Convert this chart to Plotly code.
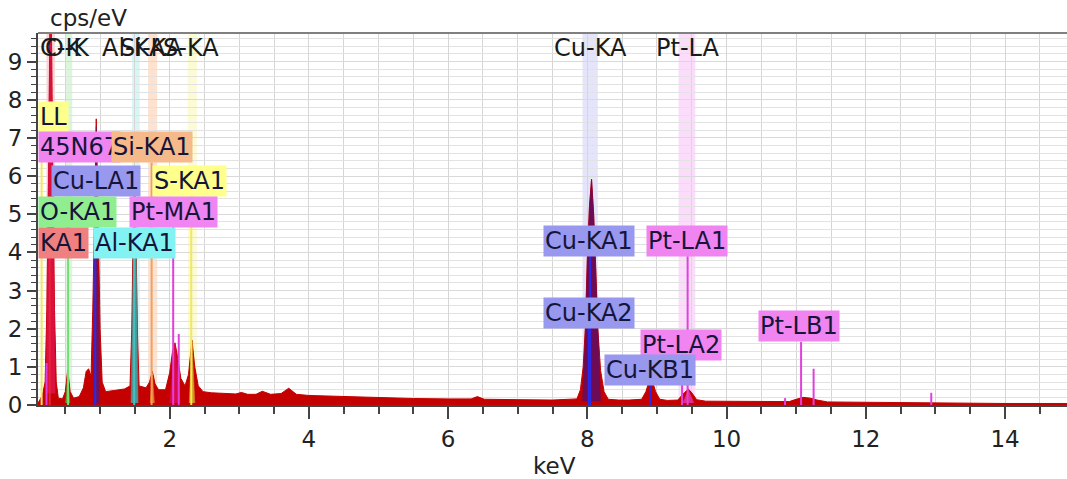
import plotly.graph_objects as go

# ---------------- data ----------------
# Measured spectrum outline (keV, cps/eV)
energy_keV = [0.108, 0.13, 0.17, 0.21, 0.235, 0.26, 0.29, 0.32, 0.345, 0.37, 0.40, 0.46, 0.50, 0.535, 0.57,
              0.62, 0.70, 0.76, 0.80, 0.835, 0.87, 0.895, 0.92, 0.945, 0.975, 1.00, 1.03, 1.08, 1.20, 1.35,
              1.43, 1.455, 1.475, 1.495, 1.515, 1.535, 1.56, 1.66, 1.71, 1.75, 1.79, 1.84, 1.94, 2.00,
              2.04, 2.075, 2.11, 2.16, 2.22, 2.27, 2.32, 2.36, 2.41, 2.48, 2.60, 2.80, 2.95, 3.03, 3.12,
              3.24, 3.33, 3.45, 3.60, 3.71, 3.82, 4.00, 4.50, 5.00, 5.50, 6.00, 6.33, 6.42, 6.52, 7.00,
              7.50, 7.85, 7.90, 7.94, 7.97, 8.00, 8.03, 8.06, 8.09, 8.12, 8.15, 8.19, 8.24, 8.30, 8.45,
              8.60, 8.78, 8.84, 8.88, 8.91, 8.94, 8.98, 9.04, 9.15, 9.30, 9.36, 9.41, 9.45, 9.50, 9.57,
              9.70, 10.0, 10.5, 10.9, 11.0, 11.1, 11.2, 11.3, 11.45, 12.0, 13.0, 14.0, 14.89]
cps_eV = [0.05, 0.12, 0.25, 0.6, 2.5, 6.0, 12.0, 6.0, 2.5, 0.6, 0.18, 0.16, 0.35, 0.92, 0.35,
          0.18, 0.22, 0.45, 0.88, 0.95, 0.75, 2.5, 4.8, 7.5, 4.6, 2.0, 0.6, 0.35, 0.38, 0.42,
          0.5, 2.0, 4.5, 6.0, 4.5, 2.0, 0.5, 0.45, 0.6, 0.88, 0.55, 0.4, 0.4, 0.85,
          1.4, 1.63, 1.3, 0.7, 0.5, 0.8, 1.70, 1.0, 0.5, 0.35, 0.32, 0.30, 0.29, 0.33, 0.28,
          0.28, 0.36, 0.28, 0.30, 0.44, 0.28, 0.25, 0.22, 0.19, 0.17, 0.16, 0.16, 0.22, 0.15, 0.14,
          0.13, 0.16, 0.4, 1.0, 2.0, 3.9, 5.2, 5.92, 5.0, 3.6, 2.0, 0.9, 0.35, 0.15, 0.13,
          0.13, 0.15, 0.35, 0.58, 0.65, 0.60, 0.35, 0.15, 0.12, 0.13, 0.26, 0.36, 0.42, 0.32, 0.14,
          0.10, 0.10, 0.09, 0.09, 0.15, 0.20, 0.18, 0.13, 0.08, 0.07, 0.05, 0.04, 0.04]

# Element peak overlays (keV, cps/eV)
peak_C_keV = [0.225, 0.26, 0.29, 0.32, 0.355]
peak_C_cps = [0.3, 6.0, 12.0, 6.0, 0.3]
peak_O_keV = [0.505, 0.535, 0.565]
peak_O_cps = [0.05, 0.88, 0.05]
peak_CuL_keV = [0.91, 0.93, 0.945, 0.965, 0.985]
peak_CuL_cps = [0.05, 4.0, 7.3, 4.0, 0.05]
peak_Al_keV = [1.445, 1.475, 1.495, 1.515, 1.545]
peak_Al_cps = [0.05, 4.4, 5.95, 4.4, 0.05]
peak_Si_keV = [1.72, 1.75, 1.78]
peak_Si_cps = [0.05, 0.85, 0.05]
peak_PtM_keV = [2.00, 2.075, 2.15]
peak_PtM_cps = [0.05, 1.6, 0.05]
peak_S_keV = [2.28, 2.32, 2.36]
peak_S_cps = [0.05, 1.65, 0.05]
peak_CuK_keV = [7.93, 7.97, 8.00, 8.03, 8.06, 8.09, 8.12, 8.15, 8.19]
peak_CuK_cps = [0.1, 1.8, 3.8, 5.2, 5.9, 5.0, 3.5, 1.8, 0.1]
peak_PtL_keV = [9.37, 9.45, 9.53]
peak_PtL_cps = [0.05, 0.40, 0.05]

# Identified line markers
line_keV = [0.16, 0.23, 0.277, 0.54, 0.93, 1.49, 1.74, 2.05, 2.13, 2.31, 8.02, 8.04, 8.90, 9.36, 9.44, 10.84, 11.07, 11.25, 12.94]
line_top = [7.1, 1.1, 3.9, 4.7, 5.5, 3.9, 6.35, 4.7, 1.86, 5.5, 2.05, 3.9, 0.52, 1.15, 3.9, 0.18, 1.65, 0.95, 0.32]
line_elem = ['S', 'Pt', 'C', 'O', 'Cu', 'Al', 'Si', 'Pt', 'Pt', 'S', 'Cu', 'Cu', 'Cu', 'Pt', 'Pt', 'Pt', 'Pt', 'Pt', 'Pt']

# Line labels
label_text = ['LL', '45N67', 'Si-KA1', 'Cu-LA1', 'S-KA1', 'O-KA1', 'Pt-MA1', 'KA1', 'Al-KA1',
              'Cu-KA1', 'Pt-LA1', 'Cu-KA2', 'Pt-LA2', 'Cu-KB1', 'Pt-LB1']
label_keV = [0.108, 0.108, 1.74, 0.934, 2.28, 0.108, 2.06, 0.108, 1.50,
             8.02, 9.43, 8.02, 9.35, 8.90, 11.04]
label_cps = [7.55, 6.75, 6.75, 5.88, 5.88, 5.07, 5.07, 4.25, 4.25,
             4.29, 4.29, 2.41, 1.56, 0.91, 2.06]
label_elem = ['S', 'Pt', 'Si', 'Cu', 'S', 'O', 'Pt', 'C', 'Al',
              'Cu', 'Pt', 'Cu', 'Pt', 'Cu', 'Pt']

# Element family bands along the top
band_text = ['C-K', 'O-K', 'Al-KA', 'Si-KA', 'S-KA', 'Cu-KA', 'Pt-LA']
band_elem = ['C', 'O', 'Al', 'Si', 'S', 'Cu', 'Pt']
band_lo = [0.23, 0.50, 1.46, 1.69, 2.26, 7.93, 9.31]
band_hi = [0.35, 0.60, 1.57, 1.82, 2.39, 8.15, 9.55]
band_mid = [0.28, 0.53, 1.49, 1.74, 2.31, 8.04, 9.44]

# ---------------- styles ----------------
FONT = "DejaVu Sans"
X_MIN, X_MAX = 0.108, 14.89
Y_MIN, Y_MAX = 0.0, 9.75
line_color = {'S': '#f2e85a', 'Pt': '#e040dc', 'C': '#e8203c', 'O': '#74e074', 'Cu': '#2a2ae8',
              'Al': '#44c0c0', 'Si': '#f0a060'}
box_color = {'S': '#ffff8c', 'Pt': '#f084f0', 'C': '#f08080', 'O': '#90ee90', 'Cu': '#9898ee',
             'Al': '#82f2f2', 'Si': '#f6b98a'}
band_color = {'C': '#fad4d4', 'O': '#dcf6dc', 'Al': '#d8f6f6', 'Si': '#fde2d0', 'S': '#fbfbd6',
              'Cu': '#e4e4fa', 'Pt': '#fbdcfb'}
overlay = [
    (peak_C_keV, peak_C_cps, '#dc1040'),
    (peak_O_keV, peak_O_cps, '#5da02a'),
    (peak_CuL_keV, peak_CuL_cps, '#6b1460'),
    (peak_Al_keV, peak_Al_cps, '#4e9494'),
    (peak_Si_keV, peak_Si_cps, '#e8761e'),
    (peak_PtM_keV, peak_PtM_cps, '#dc0a48'),
    (peak_S_keV, peak_S_cps, '#d6961c'),
    (peak_CuK_keV, peak_CuK_cps, '#6c0c56'),
    (peak_PtL_keV, peak_PtL_cps, '#e02c8c'),
]

fig = go.Figure()

fig.add_trace(go.Scatter(x=energy_keV, y=cps_eV, mode='lines', fill='tozeroy',
                         line=dict(color='#c40000', width=1), fillcolor='#c40000',
                         hoverinfo='skip', showlegend=False))

for xs, ys, col in overlay:
    fig.add_trace(go.Scatter(x=xs, y=ys, mode='lines', fill='toself', fillcolor=col,
                             line=dict(color=col, width=0.5), hoverinfo='skip', showlegend=False))

for el in line_color:
    xs, ys = [], []
    for e, t, k in zip(line_keV, line_top, line_elem):
        if k == el:
            xs += [e, e, None]
            ys += [0, t, None]
    if xs:
        fig.add_trace(go.Scatter(x=xs, y=ys, mode='lines', line=dict(color=line_color[el], width=2),
                                 hoverinfo='skip', showlegend=False))

shapes = []
for lo, hi, el in zip(band_lo, band_hi, band_elem):
    shapes.append(dict(type='rect', xref='x', yref='y', x0=lo, x1=hi, y0=Y_MIN, y1=Y_MAX,
                       fillcolor=band_color[el], line=dict(width=0), layer='below'))
shapes.append(dict(type='line', xref='paper', yref='paper', x0=0, x1=1, y0=1, y1=1,
                   line=dict(color='#808080', width=2)))

annotations = []
for t, xm, el in zip(band_text, band_mid, band_elem):
    left = xm < 0.4
    annotations.append(dict(x=X_MIN if left else xm, y=9.37, xref='x', yref='y', text=t, showarrow=False,
                            xanchor='left' if left else 'center', yanchor='middle',
                            font=dict(family=FONT, size=24, color='#1a1a1a')))
for t, xk, yc, el in zip(label_text, label_keV, label_cps, label_elem):
    left = xk <= X_MIN + 1e-9
    annotations.append(dict(x=xk, y=yc, xref='x', yref='y', text=t, showarrow=False,
                            xanchor='left' if left else 'center', yanchor='middle',
                            bgcolor=box_color[el], borderpad=1,
                            font=dict(family=FONT, size=24, color='#15153a')))
annotations.append(dict(x=0.0097, y=1.04, xref='paper', yref='paper', text='cps/eV', showarrow=False,
                        xanchor='left', yanchor='middle', font=dict(family=FONT, size=23, color='#222')))
annotations.append(dict(x=0.502, y=-0.164, xref='paper', yref='paper', text='keV', showarrow=False,
                        xanchor='center', yanchor='middle', font=dict(family=FONT, size=23, color='#222')))

fig.update_layout(
    width=1067, height=479,
    margin=dict(l=38, r=0, t=33, b=74),
    paper_bgcolor='white', plot_bgcolor='white',
    shapes=shapes, annotations=annotations,
    showlegend=False,
    xaxis=dict(range=[X_MIN, X_MAX], tickvals=[2, 4, 6, 8, 10, 12, 14], ticks='outside', ticklen=12,
               tickwidth=1.5, tickcolor='#444', showline=True, linecolor='#444', linewidth=2,
               showgrid=True, gridcolor='#d6d6d6', gridwidth=1, zeroline=False,
               tickfont=dict(family=FONT, size=23, color='#222'),
               minor=dict(dtick=0.5, tick0=0, ticks='outside', ticklen=7, tickcolor='#444', tickwidth=1.5,
                          showgrid=True, gridcolor='#d6d6d6', gridwidth=1)),
    yaxis=dict(range=[Y_MIN, Y_MAX], dtick=1, tick0=0, ticks='outside', ticklen=9, tickwidth=1.5,
               tickcolor='#444', showline=True, linecolor='#444', linewidth=2,
               showgrid=True, gridcolor='#d9d9d9', gridwidth=1, zeroline=False,
               tickfont=dict(family=FONT, size=23, color='#222'),
               minor=dict(dtick=0.2, tick0=0, ticks='outside', ticklen=5, tickcolor='#444', tickwidth=1,
                          showgrid=True, gridcolor='#e2e2e2', gridwidth=1)),
)

fig.write_html("out.html")
